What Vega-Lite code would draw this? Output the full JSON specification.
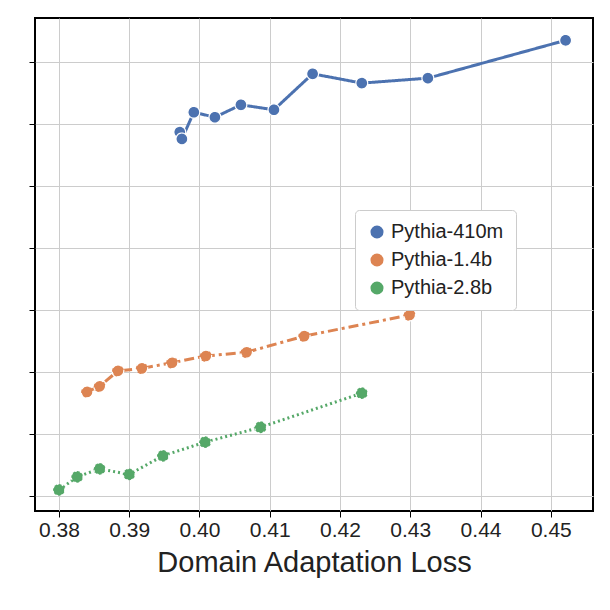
{
"$schema":"https://vega.github.io/schema/vega-lite/v6.json",
"width":558,"height":493,"autosize":{"type":"none"},
"padding":{"left":35,"top":18,"right":17,"bottom":99},
"background":"white",
"config":{"view":{"stroke":"black","strokeWidth":2},"font":"Liberation Sans"},
"data":{"values":[
{"m":"Pythia-410m","x":0.3972,"y":5.87},{"m":"Pythia-410m","x":0.3975,"y":5.76},{"m":"Pythia-410m","x":0.3992,"y":6.19},{"m":"Pythia-410m","x":0.4022,"y":6.11},{"m":"Pythia-410m","x":0.4059,"y":6.31},{"m":"Pythia-410m","x":0.4106,"y":6.23},{"m":"Pythia-410m","x":0.4161,"y":6.81},{"m":"Pythia-410m","x":0.4231,"y":6.66},{"m":"Pythia-410m","x":0.4325,"y":6.74},{"m":"Pythia-410m","x":0.4521,"y":7.35},
{"m":"Pythia-1.4b","x":0.3840,"y":1.68},{"m":"Pythia-1.4b","x":0.3858,"y":1.77},{"m":"Pythia-1.4b","x":0.3884,"y":2.02},{"m":"Pythia-1.4b","x":0.3918,"y":2.06},{"m":"Pythia-1.4b","x":0.3961,"y":2.15},{"m":"Pythia-1.4b","x":0.4009,"y":2.26},{"m":"Pythia-1.4b","x":0.4067,"y":2.32},{"m":"Pythia-1.4b","x":0.4149,"y":2.58},{"m":"Pythia-1.4b","x":0.4299,"y":2.92},
{"m":"Pythia-2.8b","x":0.3800,"y":0.10},{"m":"Pythia-2.8b","x":0.3826,"y":0.31},{"m":"Pythia-2.8b","x":0.3858,"y":0.44},{"m":"Pythia-2.8b","x":0.3900,"y":0.35},{"m":"Pythia-2.8b","x":0.3948,"y":0.65},{"m":"Pythia-2.8b","x":0.4008,"y":0.87},{"m":"Pythia-2.8b","x":0.4087,"y":1.11},{"m":"Pythia-2.8b","x":0.4231,"y":1.66}
]},
"mark":{"type":"line","strokeWidth":3,"point":{"filled":true,"size":140,"stroke":"white","strokeWidth":1.2}},
"encoding":{
"x":{"field":"x","type":"quantitative","scale":{"domain":[0.3766,0.456],"nice":false,"zero":false},
"axis":{"values":[0.38,0.39,0.40,0.41,0.42,0.43,0.44,0.45],"format":".2f","title":"Domain Adaptation Loss","titleFontSize":29,"titleFontWeight":"normal","titleColor":"#222","labelFontSize":21,"labelColor":"#222","gridColor":"#cccccc","domain":false,"tickColor":"black","tickSize":6,"titlePadding":8}},
"y":{"field":"y","type":"quantitative","scale":{"domain":[-0.24,7.71],"nice":false,"zero":false},
"axis":{"values":[0,1,2,3,4,5,6,7],"labels":false,"title":null,"gridColor":"#cccccc","domain":false,"tickColor":"black","tickSize":6}},
"color":{"field":"m","type":"nominal","sort":["Pythia-410m","Pythia-1.4b","Pythia-2.8b"],
"scale":{"domain":["Pythia-410m","Pythia-1.4b","Pythia-2.8b"],"range":["#4c72b0","#dd8452","#55a868"]},
"legend":{"title":null,"orient":"none","legendX":320,"legendY":192,"labelFontSize":20,"labelColor":"#222","symbolType":"circle","symbolSize":170,"symbolStrokeWidth":0,"symbolDash":[],"rowPadding":8,"padding":12,"fillColor":"white","strokeColor":"#cccccc","cornerRadius":4}},
"strokeDash":{"field":"m","type":"nominal","scale":{"domain":["Pythia-410m","Pythia-1.4b","Pythia-2.8b"],"range":[[1,0],[10,4,3,4],[2,3]]},"legend":null}
}
}
